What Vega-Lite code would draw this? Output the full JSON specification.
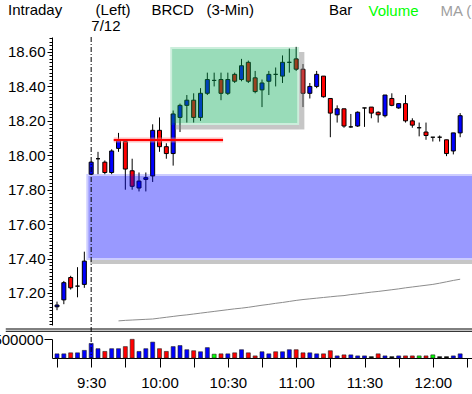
{
  "$schema": "https://vega.github.io/schema/vega-lite/v6.json",
  "autosize": {"type": "none"},
  "width": 420,
  "height": 321,
  "padding": {"left": 52, "top": 37, "right": 0, "bottom": 36},
  "background": "white",
  "config": {
    "view": {"stroke": null},
    "font": "Liberation Sans",
    "axis": {"labelFont": "Liberation Sans", "titleFont": "Liberation Sans", "labelFontSize": 15, "labelColor": "black", "tickColor": "black", "domainColor": "black", "grid": false, "titleFontWeight": "normal", "titleFontSize": 15, "labelOverlap": false, "labelFlush": false, "labelBound": false}
  },
  "title": {
    "text": "Intraday\u00a0\u00a0\u00a0\u00a0\u00a0\u00a0\u00a0\u00a0(Left)\u00a0\u00a0\u00a0\u00a0\u00a0BRCD\u00a0\u00a0\u00a0(3-Min)\u00a0\u00a0\u00a0\u00a0\u00a0\u00a0\u00a0\u00a0\u00a0\u00a0\u00a0\u00a0\u00a0\u00a0\u00a0\u00a0\u00a0\u00a0Bar",
    "subtitle": "\u200b\u00a0\u00a0\u00a0\u00a0\u00a0\u00a0\u00a0\u00a0\u00a0\u00a0\u00a0\u00a0\u00a0\u00a0\u00a0\u00a0\u00a0\u00a0\u00a0\u00a07/12",
    "anchor": "start",
    "frame": "group",
    "dx": -44,
    "dy": 33,
    "font": "Liberation Sans",
    "fontSize": 15,
    "fontWeight": "normal",
    "color": "black",
    "subtitleFont": "Liberation Sans",
    "subtitleFontSize": 15,
    "subtitleColor": "black",
    "subtitlePadding": 1,
    "offset": 2
  },
  "datasets": {
    "bars": [
      {"k": -5, "o": 17.12, "h": 17.15, "l": 17.10, "c": 17.13, "v": 109000, "vc": "up", "ma": null},
      {"k": -4, "o": 17.16, "h": 17.27, "l": 17.135, "c": 17.26, "v": 109000, "vc": "up", "ma": null},
      {"k": -3, "o": 17.29, "h": 17.30, "l": 17.22, "c": 17.23, "v": 136000, "vc": "down", "ma": null},
      {"k": -2, "o": 17.24, "h": 17.35, "l": 17.175, "c": 17.24, "v": 136000, "vc": "up", "ma": null},
      {"k": -1, "o": 17.25, "h": 17.44, "l": 17.23, "c": 17.385, "v": 200000, "vc": "up", "ma": null},
      {"k": 0, "o": 17.89, "h": 17.965, "l": 17.885, "c": 17.96, "v": 382000, "vc": "up", "ma": null},
      {"k": 1, "o": 17.98, "h": 18.02, "l": 17.89, "c": 17.98, "v": 245000, "vc": "up", "ma": null},
      {"k": 2, "o": 17.96, "h": 17.97, "l": 17.89, "c": 17.90, "v": 173000, "vc": "down", "ma": null},
      {"k": 3, "o": 17.90, "h": 18.035, "l": 17.89, "c": 18.025, "v": 245000, "vc": "up", "ma": null},
      {"k": 4, "o": 18.04, "h": 18.13, "l": 18.02, "c": 18.09, "v": 245000, "vc": "up", "ma": 17.038},
      {"k": 5, "o": 18.08, "h": 18.09, "l": 17.80, "c": 17.92, "v": 300000, "vc": "down", "ma": 17.041},
      {"k": 6, "o": 17.91, "h": 17.98, "l": 17.80, "c": 17.82, "v": 491000, "vc": "down", "ma": 17.043},
      {"k": 7, "o": 17.81, "h": 17.90, "l": 17.79, "c": 17.85, "v": 173000, "vc": "up", "ma": 17.045},
      {"k": 8, "o": 17.86, "h": 17.90, "l": 17.79, "c": 17.87, "v": 245000, "vc": "up", "ma": 17.047},
      {"k": 9, "o": 17.88, "h": 18.18, "l": 17.845, "c": 18.145, "v": 418000, "vc": "up", "ma": 17.049},
      {"k": 10, "o": 18.145, "h": 18.22, "l": 18.02, "c": 18.05, "v": 245000, "vc": "down", "ma": 17.054},
      {"k": 11, "o": 18.05, "h": 18.07, "l": 17.98, "c": 18.01, "v": 173000, "vc": "down", "ma": 17.059},
      {"k": 12, "o": 18.01, "h": 18.26, "l": 17.94, "c": 18.24, "v": 300000, "vc": "up", "ma": 17.064},
      {"k": 13, "o": 18.22, "h": 18.30, "l": 18.135, "c": 18.29, "v": 327000, "vc": "up", "ma": 17.069},
      {"k": 14, "o": 18.29, "h": 18.35, "l": 18.19, "c": 18.32, "v": 218000, "vc": "up", "ma": 17.073},
      {"k": 15, "o": 18.32, "h": 18.36, "l": 18.19, "c": 18.22, "v": 191000, "vc": "down", "ma": 17.078},
      {"k": 16, "o": 18.22, "h": 18.39, "l": 18.20, "c": 18.36, "v": 164000, "vc": "up", "ma": 17.083},
      {"k": 17, "o": 18.36, "h": 18.48, "l": 18.35, "c": 18.44, "v": 273000, "vc": "up", "ma": 17.088},
      {"k": 18, "o": 18.435, "h": 18.48, "l": 18.40, "c": 18.435, "v": 100000, "vc": "flat", "ma": 17.093},
      {"k": 19, "o": 18.44, "h": 18.48, "l": 18.32, "c": 18.36, "v": 109000, "vc": "down", "ma": 17.098},
      {"k": 20, "o": 18.36, "h": 18.48, "l": 18.35, "c": 18.44, "v": 109000, "vc": "up", "ma": 17.103},
      {"k": 21, "o": 18.47, "h": 18.48, "l": 18.42, "c": 18.43, "v": 136000, "vc": "down", "ma": 17.108},
      {"k": 22, "o": 18.44, "h": 18.56, "l": 18.43, "c": 18.52, "v": 218000, "vc": "up", "ma": 17.112},
      {"k": 23, "o": 18.54, "h": 18.55, "l": 18.42, "c": 18.43, "v": 136000, "vc": "down", "ma": 17.117},
      {"k": 24, "o": 18.45, "h": 18.49, "l": 18.36, "c": 18.37, "v": 55000, "vc": "down", "ma": 17.123},
      {"k": 25, "o": 18.38, "h": 18.44, "l": 18.28, "c": 18.42, "v": 164000, "vc": "up", "ma": 17.129},
      {"k": 26, "o": 18.43, "h": 18.49, "l": 18.35, "c": 18.47, "v": 109000, "vc": "up", "ma": 17.134},
      {"k": 27, "o": 18.47, "h": 18.51, "l": 18.40, "c": 18.47, "v": 164000, "vc": "down", "ma": 17.140},
      {"k": 28, "o": 18.46, "h": 18.58, "l": 18.42, "c": 18.54, "v": 164000, "vc": "up", "ma": 17.145},
      {"k": 29, "o": 18.54, "h": 18.62, "l": 18.48, "c": 18.54, "v": 218000, "vc": "up", "ma": 17.151},
      {"k": 30, "o": 18.56, "h": 18.63, "l": 18.49, "c": 18.50, "v": 218000, "vc": "down", "ma": 17.157},
      {"k": 31, "o": 18.50, "h": 18.53, "l": 18.28, "c": 18.36, "v": 136000, "vc": "down", "ma": 17.162},
      {"k": 32, "o": 18.36, "h": 18.42, "l": 18.33, "c": 18.40, "v": 136000, "vc": "up", "ma": 17.166},
      {"k": 33, "o": 18.40, "h": 18.49, "l": 18.39, "c": 18.47, "v": 109000, "vc": "up", "ma": 17.170},
      {"k": 34, "o": 18.46, "h": 18.46, "l": 18.335, "c": 18.34, "v": 109000, "vc": "down", "ma": 17.174},
      {"k": 35, "o": 18.33, "h": 18.33, "l": 18.105, "c": 18.245, "v": 191000, "vc": "down", "ma": 17.178},
      {"k": 36, "o": 18.235, "h": 18.29, "l": 18.19, "c": 18.27, "v": 55000, "vc": "up", "ma": 17.182},
      {"k": 37, "o": 18.27, "h": 18.27, "l": 18.16, "c": 18.17, "v": 82000, "vc": "down", "ma": 17.185},
      {"k": 38, "o": 18.165, "h": 18.24, "l": 18.16, "c": 18.165, "v": 82000, "vc": "up", "ma": 17.191},
      {"k": 39, "o": 18.17, "h": 18.255, "l": 18.165, "c": 18.25, "v": 55000, "vc": "up", "ma": 17.195},
      {"k": 40, "o": 18.275, "h": 18.275, "l": 18.165, "c": 18.275, "v": 55000, "vc": "up", "ma": 17.200},
      {"k": 41, "o": 18.28, "h": 18.28, "l": 18.215, "c": 18.245, "v": 36000, "vc": "none", "ma": 17.205},
      {"k": 42, "o": 18.25, "h": 18.255, "l": 18.19, "c": 18.235, "v": 109000, "vc": "down", "ma": 17.209},
      {"k": 43, "o": 18.23, "h": 18.35, "l": 18.22, "c": 18.35, "v": 55000, "vc": "up", "ma": 17.214},
      {"k": 44, "o": 18.33, "h": 18.36, "l": 18.285, "c": 18.29, "v": 36000, "vc": "none", "ma": 17.219},
      {"k": 45, "o": 18.275, "h": 18.30, "l": 18.27, "c": 18.30, "v": 55000, "vc": "up", "ma": 17.224},
      {"k": 46, "o": 18.30, "h": 18.35, "l": 18.19, "c": 18.20, "v": 55000, "vc": "down", "ma": 17.230},
      {"k": 47, "o": 18.20, "h": 18.215, "l": 18.16, "c": 18.175, "v": 55000, "vc": "down", "ma": 17.235},
      {"k": 48, "o": 18.16, "h": 18.19, "l": 18.11, "c": 18.16, "v": 55000, "vc": "flat", "ma": 17.240},
      {"k": 49, "o": 18.135, "h": 18.19, "l": 18.09, "c": 18.115, "v": 55000, "vc": "down", "ma": 17.245},
      {"k": 50, "o": 18.105, "h": 18.105, "l": 18.08, "c": 18.105, "v": 82000, "vc": "flat", "ma": 17.250},
      {"k": 51, "o": 18.105, "h": 18.115, "l": 18.08, "c": 18.105, "v": 36000, "vc": "none", "ma": 17.257},
      {"k": 52, "o": 18.09, "h": 18.09, "l": 17.995, "c": 18.01, "v": 36000, "vc": "none", "ma": 17.265},
      {"k": 53, "o": 18.025, "h": 18.13, "l": 18.005, "c": 18.13, "v": 55000, "vc": "up", "ma": 17.273},
      {"k": 54, "o": 18.13, "h": 18.245, "l": 18.105, "c": 18.23, "v": 109000, "vc": "up", "ma": 17.280}
    ]
  },
  "layer": [
    {
      "layer": [
        {
          "data": {"name": "bars"},
          "mark": {"type": "line", "color": "#8c8c8c", "strokeWidth": 1},
          "encoding": {
            "x": {"field": "k", "type": "quantitative", "scale": {"domain": [-5, 55], "nice": false, "zero": false}},
            "y": {
              "field": "ma", "type": "quantitative",
              "scale": {"domain": [17.0141, 18.6871], "range": [288, 0], "nice": false, "zero": false},
              "axis": {
                "orient": "left",
                "title": "MA (",
                "titleAngle": 0,
                "titleX": 388,
                "titleY": -22,
                "titleAlign": "left",
                "titleBaseline": "alphabetic",
                "titleColor": "#a0a0a0",
                "tickCount": 500,
                "values": [17.02,17.04,17.06,17.08,17.1,17.12,17.14,17.16,17.18,17.2,17.22,17.24,17.26,17.28,17.3,17.32,17.34,17.36,17.38,17.4,17.42,17.44,17.46,17.48,17.5,17.52,17.54,17.56,17.58,17.6,17.62,17.64,17.66,17.68,17.7,17.72,17.74,17.76,17.78,17.8,17.82,17.84,17.86,17.88,17.9,17.92,17.94,17.96,17.98,18,18.02,18.04,18.06,18.08,18.1,18.12,18.14,18.16,18.18,18.2,18.22,18.24,18.26,18.28,18.3,18.32,18.34,18.36,18.38,18.4,18.42,18.44,18.46,18.48,18.5,18.52,18.54,18.56,18.58,18.6,18.62,18.64,18.66,18.68],
                "labelExpr": "abs(datum.value * 5 - round(datum.value * 5)) < 0.01 ? format(datum.value, '.2f') : ''",
                "labelOverlap": false,
                "labelPadding": 2,
                "tickSize": {"condition": {"test": "abs(datum.value * 5 - round(datum.value * 5)) < 0.01", "value": 5}, "value": 3}
              }
            }
          }
        },
        {
          "data": {"name": "bars"},
          "mark": {"type": "rule", "color": "black", "strokeWidth": 1},
          "encoding": {
            "x": {"field": "k", "type": "quantitative"},
            "y": {"field": "l", "type": "quantitative"},
            "y2": {"field": "h"}
          }
        },
        {
          "data": {"name": "bars"},
          "mark": {"type": "bar", "width": 4, "stroke": "black", "strokeWidth": 1},
          "encoding": {
            "x": {"field": "k", "type": "quantitative"},
            "y": {"field": "o", "type": "quantitative"},
            "y2": {"field": "c"},
            "fill": {"condition": [{"test": "datum.c > datum.o", "value": "#0000ff"}, {"test": "datum.c < datum.o", "value": "#ff0000"}], "value": "black"}
          }
        },
        {
          "data": {"values": [{"x1": -0.71, "x2": 56, "y1": 17.391, "y2": 17.891}]},
          "mark": {"type": "rect", "color": "#0000ff", "opacity": 0.2},
          "encoding": {
            "x": {"field": "x1", "type": "quantitative"}, "x2": {"field": "x2"},
            "y": {"field": "y1", "type": "quantitative"}, "y2": {"field": "y2"}
          }
        },
        {
          "data": {"values": [{"x1": -0.4, "x2": 56, "y1": 17.403, "y2": 17.879}]},
          "mark": {"type": "rect", "color": "#0000ff", "opacity": 0.25},
          "encoding": {
            "x": {"field": "x1", "type": "quantitative"}, "x2": {"field": "x2"},
            "y": {"field": "y1", "type": "quantitative"}, "y2": {"field": "y2"}
          }
        },
        {
          "data": {"values": [{"x1": -0.14, "x2": 56, "y1": 17.368, "y2": 17.391}]},
          "mark": {"type": "rect", "color": "#808080", "opacity": 0.45},
          "encoding": {
            "x": {"field": "x1", "type": "quantitative"}, "x2": {"field": "x2"},
            "y": {"field": "y1", "type": "quantitative"}, "y2": {"field": "y2"}
          }
        },
        {
          "data": {"values": [{"x1": 11.57, "x2": 30.43, "y1": 18.176, "y2": 18.629}]},
          "mark": {"type": "rect", "color": "#00a850", "opacity": 0.2},
          "encoding": {
            "x": {"field": "x1", "type": "quantitative"}, "x2": {"field": "x2"},
            "y": {"field": "y1", "type": "quantitative"}, "y2": {"field": "y2"}
          }
        },
        {
          "data": {"values": [{"x1": 11.85, "x2": 30.15, "y1": 18.188, "y2": 18.617}]},
          "mark": {"type": "rect", "color": "#00a850", "opacity": 0.25},
          "encoding": {
            "x": {"field": "x1", "type": "quantitative"}, "x2": {"field": "x2"},
            "y": {"field": "y1", "type": "quantitative"}, "y2": {"field": "y2"}
          }
        },
        {
          "data": {"values": [{"x1": 30.43, "x2": 31.2, "y1": 18.15, "y2": 18.60}, {"x1": 12.3, "x2": 30.43, "y1": 18.15, "y2": 18.176}]},
          "mark": {"type": "rect", "color": "#808080", "opacity": 0.45},
          "encoding": {
            "x": {"field": "x1", "type": "quantitative"}, "x2": {"field": "x2"},
            "y": {"field": "y1", "type": "quantitative"}, "y2": {"field": "y2"}
          }
        },
        {
          "data": {"values": [{"x1": 3.3, "x2": 19.3, "y": 18.089}]},
          "mark": {"type": "rule", "color": "#ff8080", "strokeWidth": 5, "opacity": 0.5},
          "encoding": {
            "x": {"field": "x1", "type": "quantitative"}, "x2": {"field": "x2"},
            "y": {"field": "y", "type": "quantitative"}
          }
        },
        {
          "data": {"values": [{"x1": 3.3, "x2": 19.3, "y": 18.089}]},
          "mark": {"type": "rule", "color": "#ff0000", "strokeWidth": 2},
          "encoding": {
            "x": {"field": "x1", "type": "quantitative"}, "x2": {"field": "x2"},
            "y": {"field": "y", "type": "quantitative"}
          }
        }
      ]
    },
    {
      "layer": [
        {
          "data": {"name": "bars"},
          "mark": {"type": "bar", "width": 4, "stroke": "#202020", "strokeWidth": 0.6},
          "encoding": {
            "x": {
              "field": "k", "type": "quantitative",
              "axis": {
                "tickCount": 500,
                "values": [-5, 0, 5, 10, 15, 20, 25, 30, 35, 40, 45, 50, 55],
                "labelExpr": "datum.value == 0 ? '9:30' : datum.value == 10 ? '10:00' : datum.value == 20 ? '10:30' : datum.value == 30 ? '11:00' : datum.value == 40 ? '11:30' : datum.value == 50 ? '12:00' : ''",
                "labelOverlap": false,
                "tickSize": 9,
                "labelPadding": 8,
                "title": "Volume",
                "titleColor": "#00ff00",
                "titleX": 316,
                "titleY": -343,
                "titleAlign": "left",
                "titleBaseline": "alphabetic",
                "titleAnchor": "start"
              }
            },
            "y": {
              "field": "v", "type": "quantitative",
              "scale": {"domain": [0, 500000], "range": [321, 302], "nice": false, "zero": true},
              "axis": {"orient": "left", "values": [500000], "labelExpr": "'500000'", "tickSize": 8, "labelPadding": 1, "title": "", "labelBaseline": "middle"}
            },
            "fill": {"field": "vc", "type": "nominal", "scale": {"domain": ["up", "down", "flat", "none"], "range": ["#0000ff", "#ff0000", "#00ff00", "#000000"]}, "legend": null}
          }
        },
        {
          "data": {"values": [{"s": 763000}, {"s": 703000}]},
          "mark": {"type": "rule", "color": "black", "strokeWidth": 1},
          "encoding": {
            "x": {"datum": -12.5}, "x2": {"datum": 56},
            "y": {"field": "s", "type": "quantitative"}
          }
        },
        {
          "data": {"values": [{"k": 0}]},
          "mark": {"type": "rule", "color": "black", "strokeWidth": 1, "strokeDash": [5, 2, 1, 2]},
          "encoding": {"x": {"field": "k", "type": "quantitative"}}
        }
      ]
    }
  ],
  "resolve": {"scale": {"y": "independent"}, "axis": {"y": "independent"}}
}
